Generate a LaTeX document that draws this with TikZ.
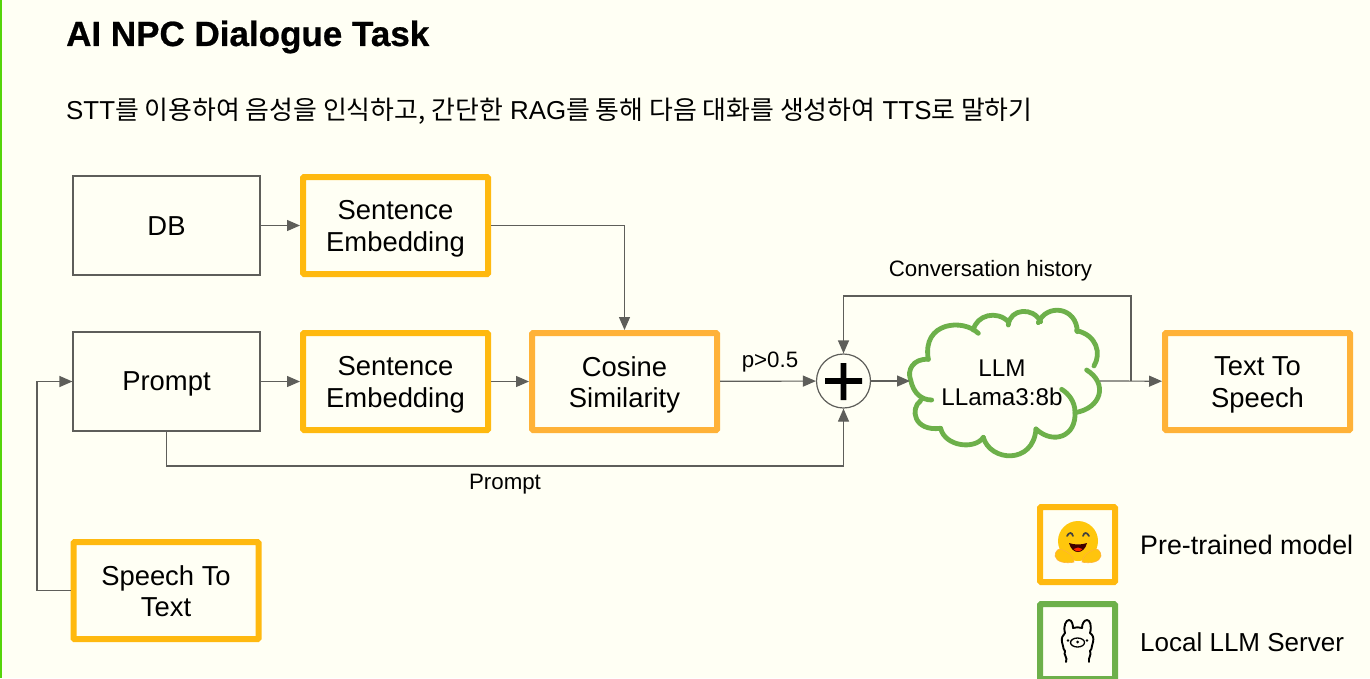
\documentclass[tikz,border=0pt]{standalone}
\usepackage{fontspec}
\setmainfont{Liberation Sans}
\newfontfamily\krfont{Noto Sans CJK KR}
\newfontfamily\titlefont[FakeBold=0.7]{Liberation Sans Bold}
\newcommand{\kr}[1]{{\krfont #1}}
\usetikzlibrary{arrows.meta,positioning,calc}
\definecolor{bgc}{HTML}{FFFFF4}
\definecolor{ambr}{HTML}{FFB90F}
\definecolor{orng}{HTML}{FFB238}
\definecolor{grn}{HTML}{6DB04A}
\definecolor{edge}{HTML}{5E5E5A}
\definecolor{lime}{HTML}{55D50A}
\tikzset{
  x=1pt,y=-1pt,
  conn/.style={draw=edge,line width=1.2pt,-{Triangle[length=13pt,width=11pt,fill=edge]}},
  boxtext/.style 2 args={label={[inner sep=0pt,align=center,font=\fontsize{27.4}{31.5}\selectfont,yshift=#1]center:{#2}}},
  plainbox/.style={draw=edge,line width=1.2pt,minimum width=187pt,minimum height=99pt,inner sep=0pt},
  modelbox/.style={draw=ambr,line width=6pt,rounded corners=1pt,minimum width=185pt,minimum height=97pt,inner sep=0pt},
  simbox/.style={modelbox,draw=orng},
  lbl/.style={inner sep=0pt,font=\fontsize{22.3}{26}\selectfont},
  legendbox/.style={line width=6pt,rounded corners=1pt,minimum width=75pt,minimum height=75pt,inner sep=0pt},
  legendtext/.style={anchor=west,inner sep=0pt,font=\fontsize{#1}{30}\selectfont}
}
\begin{document}
\begin{tikzpicture}
\useasboundingbox (0,0) rectangle (1370,678);
\clip (0,0) rectangle (1370,678);
\fill[bgc] (0,0) rectangle (1370,678);
\fill[lime] (0,0) rectangle (2,678);

\node[anchor=west,inner sep=0pt,font=\fontsize{35}{40}\selectfont\titlefont] (title) at (66,37) {AI NPC Dialogue Task};
\node[anchor=west,inner sep=0pt,font=\fontsize{25.9}{30}\selectfont] (sub) at (66,111) {STT\kr{를 이용하여 음성을 인식하고, 간단한} RAG\kr{를 통해 다음 대화를 생성하여} TTS\kr{로 말하기}};

\node[plainbox,boxtext={-0.5pt}{DB}] (db) at (166.5,225.5) {};
\node[modelbox,boxtext={-3.5pt}{Sentence\\Embedding}] (se1) at (395.5,225.5) {};
\node[plainbox,boxtext={-2.5pt}{Prompt}] (prompt) at (166.5,381.5) {};
\node[modelbox,boxtext={-3.5pt}{Sentence\\Embedding}] (se2) at (395.5,381.5) {};
\node[simbox,boxtext={-3.5pt}{Cosine\\Similarity}] (cos) at (624.5,381.5) {};
\node[simbox,boxtext={-3.5pt}{Text To\\Speech}] (tts) at (1257.5,381.5) {};
\node[modelbox,boxtext={-0.8pt}{Speech To\\Text}] (stt) at (166,590.5) {};
\node[circle,draw=edge,line width=1.2pt,minimum size=54pt,inner sep=0pt] (plus) at (843.5,381) {};
\fill[black] (825,378.2) rectangle (862,383.8) (840.7,363) rectangle (846.3,400);

% cloud
\node[inner sep=0pt,align=center,font=\fontsize{24.2}{29}\selectfont] (llm) at (1002,383) {LLM\\LLama3:8b};
\coordinate (cloudL) at (910,381);
\coordinate (cloudR) at (1100,381);
\begin{scope}[shift={(700,280)},x=0.3333pt,y=-0.3333pt,draw=grn,line width=4.8pt,line cap=round,line join=round]
\draw (835,160) .. controls (790,115) and (665,125) .. (685,238);
\draw (685,238) .. controls (640,235) and (620,270) .. (632,300) .. controls (640,340) and (665,360) .. (695,360);
\draw (662,362) .. controls (630,385) and (640,455) .. (722,445);
\draw (722,445) .. controls (735,500) and (825,510) .. (850,472);
\draw (850,472) .. controls (870,545) and (1000,555) .. (1008,447);
\draw (1008,447) .. controls (1060,495) and (1130,470) .. (1125,395) .. controls (1125,365) and (1105,340) .. (1085,328);
\draw (1125,398) .. controls (1205,385) and (1225,310) .. (1160,270);
\draw (1182,258) .. controls (1205,220) and (1190,165) .. (1130,152);
\draw (1132,155) .. controls (1130,80) and (1040,70) .. (1015,128);
\draw (1022,125) .. controls (1000,80) and (930,85) .. (925,135);
\draw (925,125) .. controls (890,90) and (830,105) .. (820,150);
\end{scope}

\node[lbl] (lblp) at (770,362.5) {p>0.5};
\node[lbl] (lblprompt) at (505,484.5) {Prompt};
\node[lbl] (lblconv) at (990.5,270.5) {Conversation history};

\coordinate (branch) at (1131,381);
\coordinate (top) at (1131,296);
\coordinate (lowbend) at (166.5,466);
\coordinate (sttbend) at (37,590.5);

\draw[conn] (db) -- (se1);
\draw[conn] (se1.east) -| (cos.north);
\draw[conn] (prompt) -- (se2);
\draw[conn] (se2) -- (cos);
\draw[conn] (cos) -- (plus);
\draw[conn] (plus) -- (cloudL);
\draw[conn] (cloudR) -- (tts);
\draw[conn] (branch) -- (top) -| (plus.north);
\draw[conn] (prompt.south) -- (lowbend) -| (plus.south);
\draw[conn] (stt.west) -- (sttbend) |- (prompt.west);

% legend
\node[legendbox,draw=ambr] (leg1) at (1077.5,544.5) {};
\node[legendbox,draw=grn] (leg2) at (1077.5,641.5) {};
\node[legendtext=26.8] (legt1) at (1140,545) {Pre-trained model};
\node[legendtext=26] (legt2) at (1140,642) {Local LLM Server};

% hugging face mark
\begin{scope}[shift={(1078,541)}]
\fill[ambr!80!yellow] (0,0) circle (20pt);
\draw[black!75,line width=1.7pt,line cap=round] (-11,-5) .. controls (-9,-9) and (-6,-9) .. (-5,-5);
\draw[black!75,line width=1.7pt,line cap=round] (5,-5) .. controls (6,-9) and (9,-9) .. (11,-5);
\fill[black!75!red] (-9,2) .. controls (-6,14) and (6,14) .. (9,2) .. controls (3,4) and (-3,4) .. (-9,2) -- cycle;
\fill[red!70!orange] (-4.5,8) .. controls (-2,11) and (2,11) .. (4.5,8) -- (0,6.5) -- cycle;
\fill[ambr!85!yellow,draw=orng,line width=.6pt] (-4,21) .. controls (-12,23) and (-22,21) .. (-23,15) .. controls (-23,10) and (-19,6) .. (-15,9) .. controls (-10,11) and (-5,14) .. (-4,21) -- cycle;
\fill[ambr!85!yellow,draw=orng,line width=.6pt] (4,21) .. controls (12,23) and (22,21) .. (23,15) .. controls (23,10) and (19,6) .. (15,9) .. controls (10,11) and (5,14) .. (4,21) -- cycle;
\end{scope}

% llama mark
\begin{scope}[shift={(1077,641)},draw=black,line width=1.9pt,line cap=round,line join=round]
\draw (-11,21) .. controls (-9,16) and (-14,14) .. (-12,10) .. controls (-15,7) and (-13,4) .. (-15,1) .. controls (-16,-3) and (-14,-6) .. (-12,-8) .. controls (-14,-15) and (-11,-21) .. (-8,-21) .. controls (-5,-21) and (-4,-16) .. (-4,-13) .. controls (-1,-14) and (2,-14) .. (5,-13) .. controls (5,-17) and (7,-21) .. (10,-21) .. controls (13,-21) and (15,-15) .. (13,-8) .. controls (16,-6) and (17,-3) .. (16,1) .. controls (14,4) and (16,7) .. (13,10) .. controls (15,14) and (11,16) .. (12,21);
\draw[line width=1.3pt] (0.5,1.5) ellipse (7pt and 4.5pt);
\fill[black] (-9,-0.5) circle (1.4pt) (10,-0.5) circle (1.4pt) (0.5,1) circle (1.5pt);
\end{scope}
\end{tikzpicture}
\end{document}
